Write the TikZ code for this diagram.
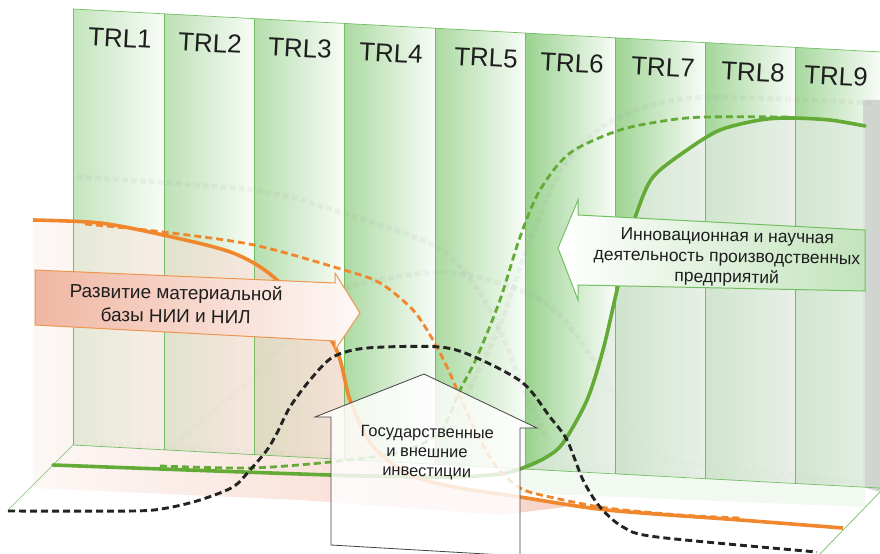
\documentclass[tikz,border=0pt]{standalone}
\usepackage{fontspec}
\setmainfont{Liberation Sans}
\definecolor{gB}{RGB}{120,195,105}
\definecolor{gLine}{RGB}{115,190,100}
\definecolor{gCurve}{RGB}{100,170,55}
\definecolor{oCurve}{RGB}{240,135,45}
\definecolor{oLine}{RGB}{238,150,80}
\definecolor{pinkA}{RGB}{240,182,162}
\definecolor{pinkL}{RGB}{252,242,238}
\definecolor{bk}{RGB}{35,35,35}
\definecolor{txt}{RGB}{30,30,30}
\definecolor{paleC}{RGB}{226,235,226}
\definecolor{stripC}{RGB}{208,213,208}
\begin{document}
\begin{tikzpicture}[x=1bp,y=-1bp,
  edgeline/.style={draw=gLine, line width=0.7bp},
  gsolid/.style={draw=gCurve, line width=3.6bp, line cap=round},
  gdash/.style={draw=gCurve, line width=2.8bp, dash pattern=on 7bp off 4bp},
  osolid/.style={draw=oCurve, line width=3.6bp},
  odash/.style={draw=oCurve, line width=2.8bp, dash pattern=on 7bp off 4bp},
  bdash/.style={draw=bk, line width=2.9bp, dash pattern=on 7bp off 4bp},
  shadowline/.style={draw=gray, line width=5bp, draw opacity=0.07, dash pattern=on 6bp off 3bp},
  trl/.style={text=txt, inner sep=0pt, rotate=-3, font=\fontsize{26}{28}\selectfont},
  lbl/.style={text=txt, inner sep=0pt, align=center}]
\useasboundingbox (0,0) rectangle (880,554);
% wall columns
\foreach \xa/\xb/\p in {73/164/44, 164/254/50, 254/344/55, 344/435/62, 435/525/62, 525/615/75, 615/705/72, 705/795/68, 795/880/65} {
  \shade[left color=gB!\p, middle color=gB!18, right color=gB!5]
    (\xa,{9+0.0531*(\xa-73)}) -- (\xb,{9+0.0531*(\xb-73)}) -- (\xb,{445+0.0532*(\xb-73)}) -- (\xa,{445+0.0532*(\xa-73)}) -- cycle;
}
% gray side strip
\fill[stripC] (863,100) -- (880,100) -- (880,492) -- (863,487) -- cycle;
% faint shadow curves
\draw[shadowline] plot[smooth] coordinates {(77,177) (253,190) (333,210) (433,245) (473,283) (500,330) (523,387) (548,440)};
\draw[shadowline] plot[smooth] coordinates {(180,440) (260,370) (330,295) (440,272) (520,290) (560,315) (600,370) (640,440) (690,463) (865,482)};
\draw[shadowline] plot[smooth] coordinates {(457,413) (497,333) (523,260) (560,172) (610,122) (693,98) (873,103)};
\draw[shadowline] (73,442) -- (865,483);
% pink area under the orange curve
\shade[left color=pinkL, right color=pinkA, fill opacity=0.6]
  plot[smooth] coordinates {(33,220) (100,223) (163,235) (233,253) (277,280) (333,343) (350,400) (372,445) (410,475) (460,488) (520,497) (565,503)}
  -- (565,507) -- (500,515) -- (300,500) -- (33,488) -- cycle;
% pale area under the green curve
\fill[paleC, fill opacity=0.72]
  plot[smooth] coordinates {(500,474) (520,469) (545,458) (563,443) (587,400) (603,350) (617,290) (628,245) (637,212) (653,177) (687,150) (720,130) (760,120) (790,118) (830,120) (865,126)}
  -- (865,487) -- (500,467) -- cycle;
\fill[gB!12, fill opacity=0.8] (520,470) -- (865,487) -- (865,507) -- (520,493) -- cycle;
% wall and floor outlines
\foreach \xa in {73,164,254,344,435,525,615,705,795} {
  \draw[edgeline] (\xa,{9+0.0531*(\xa-73)}) -- (\xa,{445+0.0532*(\xa-73)});
}
\draw[edgeline] (73,9) -- (880,51.9);
\draw[edgeline] (73,445) -- (880,488);
\draw[edgeline] (73,445) -- (8,510);
\draw[edgeline] (880,492) -- (818,556);
% curves
\draw[gsolid] plot[smooth] coordinates {(53,465) (330,475) (450,477) (500,474) (520,469) (545,458) (563,443) (587,400) (603,350) (617,290) (628,245) (637,212) (653,177) (687,150) (720,130) (760,120) (790,118) (830,120) (865,126)};
\draw[gdash] plot[smooth] coordinates {(160,466) (250,468) (330,462) (400,452) (440,432) (460,390) (477,357) (500,300) (520,237) (540,190) (570,153) (620,130) (670,120) (707,117) (790,117)};
\draw[osolid] plot[smooth] coordinates {(33,220) (100,223) (163,235) (233,253) (277,280) (333,343) (350,400) (372,445) (410,475) (460,488) (520,497) (607,510) (740,520) (843,528)};
\draw[odash] plot[smooth] coordinates {(85,224) (163,232) (254,245) (344,270) (380,283) (413,310) (433,340) (447,367) (458,392) (475,430) (495,465) (520,488) (550,497) (607,508) (680,515) (740,518)};
\draw[bdash] plot[smooth] coordinates {(8,511) (133,511) (167,508) (200,500) (233,487) (250,470) (267,450) (277,433) (290,407) (310,380) (333,357) (367,348) (440,347) (477,358) (523,383) (550,417) (567,440) (583,480) (600,507) (623,527) (657,537) (817,552)};
% arrows
\shade[left color=pinkA, right color=white!92!pinkA, draw=oLine, line width=1bp]
  (35,270) -- (335,283) -- (335,273) -- (360,313) -- (335,350) -- (335,341) -- (35,325) -- cycle;
\shade[left color=white, right color=gB!45, draw=gLine, line width=1bp]
  (558,248) -- (578,200) -- (578,215) -- (865,230) -- (865,291) -- (578,285) -- (578,300) -- cycle;
\fill[white, fill opacity=0.82] (424,374) -- (537,428) -- (520,428) -- (520,556) -- (331,545) -- (331,417) -- (315,417) -- cycle;
\draw[draw=bk!85, line width=0.8bp] (424,374) -- (537,428) -- (520,428) -- (520,556) -- (331,545) -- (331,417) -- (315,417) -- cycle;
% labels
\node[trl] (t1) at (120,38) {TRL1};
\node[trl] (t2) at (210,43) {TRL2};
\node[trl] (t3) at (300,48) {TRL3};
\node[trl] (t4) at (391,53) {TRL4};
\node[trl] (t5) at (486,58) {TRL5};
\node[trl] (t6) at (572,63) {TRL6};
\node[trl] (t7) at (663,67) {TRL7};
\node[trl] (t8) at (753,72) {TRL8};
\node[trl] (t9) at (836,76) {TRL9};
\node[lbl, rotate=-1, font=\fontsize{19}{23.5}\selectfont] (orangetext) at (176,304) {Развитие материальной\\базы НИИ и НИЛ};
\node[lbl, rotate=-1, font=\fontsize{17.5}{20.5}\selectfont] (greentext) at (727,258) {Инновационная и научная\\деятельность производственных\\предприятий};
\node[lbl, rotate=-1, font=\fontsize{16.5}{19.5}\selectfont] (housetext) at (427,453) {Государственные\\и внешние\\инвестиции};
\end{tikzpicture}
\end{document}
